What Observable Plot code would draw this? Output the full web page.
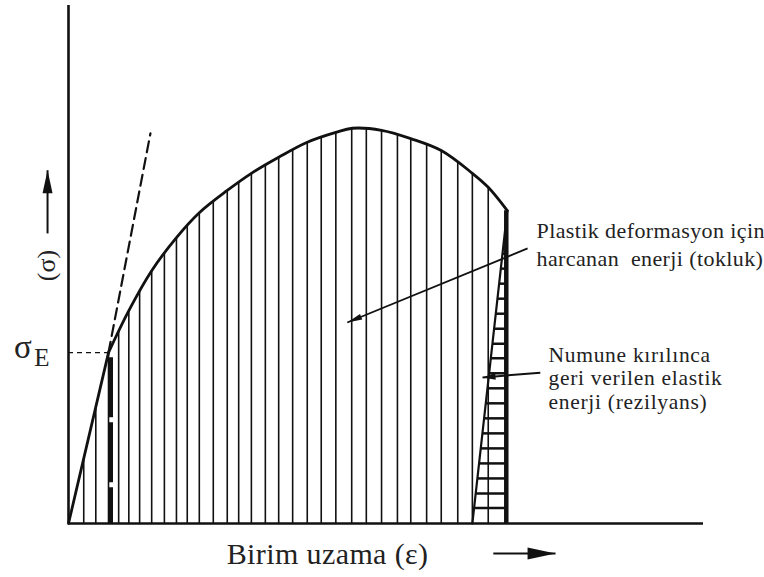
<!DOCTYPE html>
<html><head><meta charset="utf-8">
<script src="https://cdn.jsdelivr.net/npm/d3@7"></script>
<script src="https://cdn.jsdelivr.net/npm/@observablehq/plot@0.6"></script>
<style>html,body{margin:0;padding:0;background:#fff}#chart svg{display:block}</style>
</head><body><div id="chart"></div>
<script>
// ---- data (strain ε and stress σ in arbitrary units 0–100) ----
const elasticStrain = [0, 6.3];
const elasticStress = [0, 33.0];
const curveStrain = [6.3, 9.5, 13.1, 17.0, 20.6, 25.0, 28.8, 33.1, 37.6, 42.1, 44.7, 49.3, 53.9, 58.7, 63.6, 66.1, 69.1];
const curveStress = [33.0, 41.1, 48.8, 55.2, 60.0, 64.3, 67.6, 70.7, 73.6, 75.5, 76.3, 75.9, 74.3, 72.0, 67.6, 64.9, 60.4];
const elasticExtStrain = [6.3, 12.9];
const elasticExtStress = [33.0, 75.3];
const yieldStrain = 6.3;
const yieldStress = 33.0;
const hatchStrain = [2.4, 4.3, 6.3, 7.9, 9.5, 11.2, 13.1, 15.1, 17.0, 18.7, 20.6, 22.8, 25.0, 26.8, 28.8, 31.0, 33.1, 35.3, 37.6, 39.8, 42.1, 44.6, 46.9, 49.3, 51.8, 53.9, 56.4, 58.7, 61.3, 63.6, 66.1];
const unloadStrain = 63.6;
const fractureStrain = 69.1;
const fractureStress = 60.4;
const resilienceHatch = [3.0, 5.8, 8.7, 11.6, 14.5, 17.4, 20.3, 23.2, 26.1, 29.0, 31.9, 34.7, 37.6, 40.5, 43.4, 46.3, 49.2, 52.1, 55.0];
const axisMax = 100;

// text
const plasticNote = ["Plastik deformasyon için", "harcanan\u00a0 enerji (tokluk)"];
const plasticNoteX = 73.7;
const plasticNoteY = [56.4, 51.0];
const plasticArrowFrom = [72.3, 53.1];
const plasticArrowTo = [43.9, 38.8];
const resilNote = ["Numune kırılınca", "geri verilen elastik", "enerji (rezilyans)"];
const resilNoteX = 75.6;
const resilNoteY = [32.6, 28.0, 23.35];
const resilArrowFrom = [74.3, 29.1];
const resilArrowTo = [65.2, 28.2];
const xLabel = "Birim uzama (ε)";
const xLabelPos = [40.8, -5.95];
const xArrowFrom = [66.9, -5.8];
const xArrowTo = [76.7, -5.8];
const yLabel = "(σ)";
const yLabelPos = [-3.46, 49.8];
const yArrowFrom = [-3.3, 56.0];
const yArrowTo = [-3.3, 68.2];
const sigmaLabel = ["σ", "E"];
const sigmaLabelX = [-7.2, -4.2];
const sigmaLabelY = [34.0, 32.0];

// ---- scales ----
const X_DOMAIN = [0, 100], X_RANGE = [68, 703];
const Y_DOMAIN = [0, 100], Y_RANGE = [523, 5];
const kx = (X_RANGE[1] - X_RANGE[0]) / (X_DOMAIN[1] - X_DOMAIN[0]);
const ky = (Y_RANGE[0] - Y_RANGE[1]) / (Y_DOMAIN[1] - Y_DOMAIN[0]);

const allStrain = [elasticStrain[0], ...curveStrain];
const allStress = [elasticStress[0], ...curveStress];
function stressAt(e) {
  const i = Math.max(1, Math.min(allStrain.length - 1, d3.bisectLeft(allStrain, e)));
  const x0 = allStrain[i - 1], x1 = allStrain[i];
  const t = (e - x0) / (x1 - x0);
  return allStress[i - 1] + t * (allStress[i] - allStress[i - 1]);
}
function headSymbol(from, to, L, W) {
  const dx = (to[0] - from[0]) * kx, dy = -(to[1] - from[1]) * ky;
  const n = Math.hypot(dx, dy), ux = dx / n, uy = dy / n;
  return {draw(ctx) {
    ctx.moveTo(0, 0);
    ctx.lineTo(-ux * L - uy * W / 2, -uy * L + ux * W / 2);
    ctx.lineTo(-ux * L + uy * W / 2, -uy * L - ux * W / 2);
    ctx.closePath();
  }};
}
const FONT = "'Liberation Serif', 'Times New Roman', serif";
const INK = "#111";
const TXT = "#222";
const pair = (a, b) => a.map((v, i) => [v, b[i]]);

const arrow = (from, to, L, W, sw) => [
  Plot.link([[from, to]], {x1: d => d[0][0], y1: d => d[0][1], x2: d => d[1][0], y2: d => d[1][1], stroke: INK, strokeWidth: sw}),
  Plot.dot([to], {x: d => d[0], y: d => d[1], symbol: headSymbol(from, to, L, W), r: 5, fill: INK, stroke: "none"})
];

const chart = Plot.plot({
  width: 764, height: 577,
  x: {domain: X_DOMAIN, range: X_RANGE, axis: null},
  y: {domain: Y_DOMAIN, range: Y_RANGE, axis: null},
  style: {fontFamily: FONT, background: "#fff"},
  marks: [
    // toughness hatching
    Plot.ruleX(hatchStrain, {x: d => d, y1: 0, y2: d => stressAt(d), stroke: INK, strokeWidth: 1.6}),
    // yield marker bar
    Plot.ruleX([yieldStrain], {x: d => d, y1: yieldStress - 1, y2: 0, dx: 2, stroke: INK, strokeWidth: 5, strokeDasharray: "60,5"}),
    // resilience triangle
    Plot.link(resilienceHatch, {x1: s => unloadStrain + (fractureStrain - unloadStrain) * s / fractureStress, x2: fractureStrain, y1: s => s, y2: s => s, stroke: INK, strokeWidth: 2.5}),
    Plot.line(pair([unloadStrain, fractureStrain], [0, fractureStress]), {stroke: INK, strokeWidth: 2.2}),
    Plot.ruleX([fractureStrain], {x: d => d, y1: 0, y2: fractureStress, dx: -1, stroke: INK, strokeWidth: 4.5}),
    // stress-strain curve
    Plot.line(pair(elasticStrain, elasticStress), {stroke: INK, strokeWidth: 2.8}),
    Plot.line(pair(curveStrain, curveStress), {stroke: INK, strokeWidth: 2.8, curve: "catmull-rom"}),
    Plot.line(pair(elasticExtStrain, elasticExtStress), {stroke: INK, strokeWidth: 2.2, strokeDasharray: "11,6"}),
    Plot.ruleY([yieldStress], {y: d => d, x1: 0, x2: yieldStrain, stroke: INK, strokeWidth: 1.3, strokeDasharray: "5,4"}),
    // axes
    Plot.ruleX([0], {x: d => d, y1: 0, y2: axisMax, stroke: INK, strokeWidth: 2.6}),
    Plot.ruleY([0], {y: d => d, x1: 0, x2: axisMax, stroke: INK, strokeWidth: 2.6}),
    // annotations
    ...arrow(plasticArrowFrom, plasticArrowTo, 15, 6, 1.8),
    ...arrow(resilArrowFrom, resilArrowTo, 13, 7, 2),
    ...arrow(xArrowFrom, xArrowTo, 28, 12, 2),
    ...arrow(yArrowFrom, yArrowTo, 23, 10, 2),
    Plot.text(plasticNote, {x: plasticNoteX, y: (d, i) => plasticNoteY[i], text: d => d, textAnchor: "start", lineAnchor: "middle", fontSize: 22, fill: TXT, fontFamily: FONT}),
    Plot.text(resilNote, {x: resilNoteX, y: (d, i) => resilNoteY[i], text: d => d, textAnchor: "start", lineAnchor: "middle", fontSize: 21.5, fill: TXT, fontFamily: FONT}),
    Plot.text([xLabel], {x: xLabelPos[0], y: xLabelPos[1], text: d => d, textAnchor: "middle", lineAnchor: "middle", fontSize: 30, fill: TXT, fontFamily: FONT}),
    Plot.text([yLabel], {x: yLabelPos[0], y: yLabelPos[1], text: d => d, rotate: -90, textAnchor: "middle", lineAnchor: "middle", fontSize: 26, fill: TXT, fontFamily: FONT}),
    Plot.text([sigmaLabel[0]], {x: sigmaLabelX[0], y: sigmaLabelY[0], text: d => d, textAnchor: "middle", lineAnchor: "middle", fontSize: 33, fill: TXT, fontFamily: FONT}),
    Plot.text([sigmaLabel[1]], {x: sigmaLabelX[1], y: sigmaLabelY[1], text: d => d, textAnchor: "middle", lineAnchor: "middle", fontSize: 25, fill: TXT, fontFamily: FONT})
  ]
});
// slightly wider letter spacing to match the reference typeface
const textGroups = chart.querySelectorAll('g[aria-label="text"]');
const spacing = ["0.4px", "0.7px", "0.4px"];
spacing.forEach((s, i) => { if (textGroups[i]) textGroups[i].setAttribute("letter-spacing", s); });
document.getElementById("chart").appendChild(chart);
</script>
</body></html>
